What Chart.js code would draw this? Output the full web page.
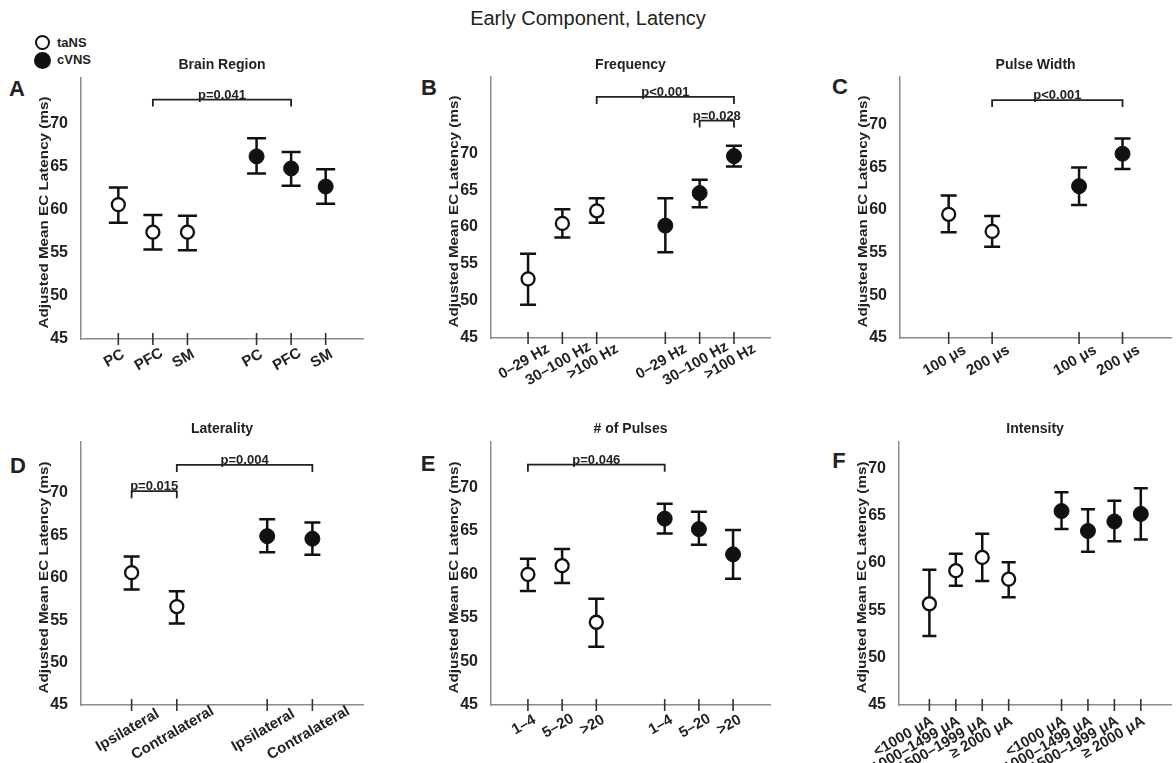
<!DOCTYPE html>
<html>
<head>
<meta charset="utf-8">
<script src="https://cdn.jsdelivr.net/npm/chart.js@4.4.1/dist/chart.umd.min.js"></script>
<style>
  html, body { margin:0; padding:0; background:#fff; }
  body { width:1176px; height:763px; overflow:hidden; position:relative; font-family:"Liberation Sans", Arial, sans-serif; color:#222; }
  canvas { position:absolute; }
  #mainTitle { position:absolute; left:588px; top:18px; transform:translate(-50%,-50%); font-size:20px; white-space:nowrap; }
  .letter { position:absolute; transform:translate(-50%,-50%); font-size:22px; font-weight:bold; line-height:1; }
  .legItem { position:absolute; left:33px; height:16px; font-size:13px; font-weight:bold; line-height:16px; white-space:nowrap; }
  .dot { position:absolute; border-radius:50%; box-sizing:border-box; }
</style>
</head>
<body>
<div id="mainTitle">Early Component, Latency</div>
<div class="legItem" style="top:35px;"><span class="dot" style="left:2px;top:0px;width:15px;height:15px;border:2.2px solid #111;background:#fff;"></span><span style="position:absolute;left:24px;">taNS</span></div>
<div class="legItem" style="top:52px;"><span class="dot" style="left:1px;top:0px;width:17px;height:17px;background:#111;"></span><span style="position:absolute;left:24px;">cVNS</span></div>
<div class="letter" style="left:17px;top:89px;">A</div>
<div class="letter" style="left:429px;top:88px;">B</div>
<div class="letter" style="left:840px;top:87px;">C</div>
<div class="letter" style="left:18px;top:466px;">D</div>
<div class="letter" style="left:428px;top:464px;">E</div>
<div class="letter" style="left:839px;top:461px;">F</div>
<canvas id="cA"></canvas>
<canvas id="cB"></canvas>
<canvas id="cC"></canvas>
<canvas id="cD"></canvas>
<canvas id="cE"></canvas>
<canvas id="cF"></canvas>
<script>
// ---------------- DATA ----------------
const yTickValues = [45, 50, 55, 60, 65, 70];
const yAxisTitle = 'Adjusted Mean EC Latency (ms)';

// A: Brain Region
const brainCategories = ['PC', 'PFC', 'SM'];
const brainTaNS     = [60.6, 57.4, 57.4];
const brainTaNSLow  = [58.5, 55.4, 55.3];
const brainTaNSHigh = [62.6, 59.4, 59.3];
const brainCVNS     = [66.2, 64.8, 62.7];
const brainCVNSLow  = [64.2, 62.8, 60.7];
const brainCVNSHigh = [68.3, 66.7, 64.7];
const brainPText  = ['p=0.041'];
const brainPFrom  = [1];
const brainPTo    = [5];
const brainPLevel = [72.8];

// B: Frequency
const freqCategories = ['0\u201329 Hz', '30\u2013100 Hz', '>100 Hz'];
const freqTaNS     = [53.0, 60.5, 62.2];
const freqTaNSLow  = [49.5, 58.6, 60.6];
const freqTaNSHigh = [56.4, 62.4, 63.9];
const freqCVNS     = [60.2, 64.6, 69.6];
const freqCVNSLow  = [56.6, 62.7, 68.2];
const freqCVNSHigh = [63.9, 66.4, 71.0];
const freqPText  = ['p<0.001', 'p=0.028'];
const freqPFrom  = [2, 5];
const freqPTo    = [6, 6];
const freqPLevel = [77.6, 74.4];

// C: Pulse Width
const pwCategories = ['100 \u03bcs', '200 \u03bcs'];
const pwTaNS     = [59.5, 57.5];
const pwTaNSLow  = [57.4, 55.7];
const pwTaNSHigh = [61.7, 59.3];
const pwCVNS     = [62.8, 66.6];
const pwCVNSLow  = [60.6, 64.8];
const pwCVNSHigh = [65.0, 68.4];
const pwPText  = ['p<0.001'];
const pwPFrom  = [1];
const pwPTo    = [4];
const pwPLevel = [72.9];

// D: Laterality
const latCategories = ['Ipsilateral', 'Contralateral'];
const latTaNS     = [60.6, 56.6];
const latTaNSLow  = [58.6, 54.6];
const latTaNSHigh = [62.5, 58.4];
const latCVNS     = [64.9, 64.6];
const latCVNSLow  = [63.0, 62.7];
const latCVNSHigh = [66.9, 66.5];
const latPText  = ['p=0.004', 'p=0.015'];
const latPFrom  = [1, 0];
const latPTo    = [4, 1];
const latPLevel = [73.3, 70.2];

// E: # of Pulses
const npCategories = ['1\u20134', '5\u201320', '>20'];
const npTaNS     = [60.0, 61.0, 54.5];
const npTaNSLow  = [58.1, 59.0, 51.7];
const npTaNSHigh = [61.8, 62.9, 57.2];
const npCVNS     = [66.4, 65.2, 62.3];
const npCVNSLow  = [64.7, 63.4, 59.5];
const npCVNSHigh = [68.1, 67.2, 65.1];
const npPText  = ['p=0.046'];
const npPFrom  = [0];
const npPTo    = [4];
const npPLevel = [72.6];

// F: Intensity
const intCategories = ['<1000 \u03bcA', '1000\u20131499 \u03bcA', '1500\u20131999 \u03bcA', '\u2265 2000 \u03bcA'];
const intTaNS     = [55.7, 59.2, 60.6, 58.3];
const intTaNSLow  = [52.3, 57.6, 58.1, 56.4];
const intTaNSHigh = [59.3, 61.0, 63.1, 60.1];
const intCVNS     = [65.5, 63.4, 64.4, 65.2];
const intCVNSLow  = [63.6, 61.2, 62.3, 62.5];
const intCVNSHigh = [67.5, 65.7, 66.6, 67.9];
const intPText  = [];
const intPFrom  = [];
const intPTo    = [];
const intPLevel = [];

// ---------------- RENDERING ----------------
const FONT = '"Liberation Sans", Arial, sans-serif';
Chart.defaults.font.family = FONT;
Chart.defaults.color = '#222';

function makePanel(cfg) {
  const cv = document.getElementById(cfg.id);
  const [cl, ct, cw, ch] = cfg.canvas;
  const [al, at, ar, ab] = cfg.area;
  cv.width = cw; cv.height = ch;
  cv.style.left = cl + 'px'; cv.style.top = ct + 'px';
  cv.style.width = cw + 'px'; cv.style.height = ch + 'px';
  const n = cfg.cats.length;
  const slots = [];
  const slotLabels = [];
  cfg.cats.forEach((c, i) => { slots.push(i); slotLabels.push(c); });
  cfg.cats.forEach((c, i) => { slots.push(n + 1 + i); slotLabels.push(c); });

  const decor = {
    id: 'decor' + cfg.id,
    beforeDatasetsDraw(chart) {
      const ctx = chart.ctx, ys = chart.scales.y;
      chart.data.datasets.forEach((ds, i) => {
        const meta = chart.getDatasetMeta(i);
        meta.data.forEach((pt, j) => {
          const x = pt.x;
          const yl = ys.getPixelForValue(ds.errLow[j]);
          const yh = ys.getPixelForValue(ds.errHigh[j]);
          const c = cfg.cap;
          ctx.save();
          ctx.strokeStyle = '#111'; ctx.lineWidth = 2.5; ctx.lineCap = 'butt';
          ctx.beginPath();
          ctx.moveTo(x, yl); ctx.lineTo(x, yh);
          ctx.moveTo(x - c, yl); ctx.lineTo(x + c, yl);
          ctx.moveTo(x - c, yh); ctx.lineTo(x + c, yh);
          ctx.stroke();
          ctx.restore();
        });
      });
    },
    afterDraw(chart) {
      const ctx = chart.ctx, xs = chart.scales.x, ys = chart.scales.y, area = chart.chartArea;
      // tick marks crossing the x axis
      ctx.save();
      ctx.strokeStyle = '#333'; ctx.lineWidth = 1.6;
      slots.forEach(s => {
        const x = xs.getPixelForValue(s);
        ctx.beginPath(); ctx.moveTo(x, area.bottom - 6); ctx.lineTo(x, area.bottom + 6); ctx.stroke();
      });
      ctx.restore();
      // rotated x labels
      ctx.save();
      ctx.fillStyle = '#222';
      ctx.font = 'bold 15px ' + FONT;
      ctx.textBaseline = 'middle';
      slots.forEach((s, k) => {
        const x = xs.getPixelForValue(s);
        const t = slotLabels[k];
        const L = ctx.measureText(t).width;
        ctx.save();
        if (cfg.rightAnchor) {
          ctx.translate(x + 3, area.bottom + 15);
          ctx.rotate(-Math.PI / 6);
          ctx.textAlign = 'right';
        } else {
          ctx.translate(x - 4, area.bottom + 17 + L * 0.12);
          ctx.rotate(-Math.PI / 6);
          ctx.textAlign = 'center';
        }
        ctx.fillText(t, 0, 0);
        ctx.restore();
      });
      ctx.restore();
      // significance brackets
      ctx.save();
      ctx.strokeStyle = '#222'; ctx.fillStyle = '#222'; ctx.lineWidth = 1.8;
      ctx.font = 'bold 13px ' + FONT;
      ctx.textAlign = 'center'; ctx.textBaseline = 'alphabetic';
      cfg.pText.forEach((t, k) => {
        const x1 = xs.getPixelForValue(cfg.pFrom[k]);
        const x2 = xs.getPixelForValue(cfg.pTo[k]);
        const y = ys.getPixelForValue(cfg.pLevel[k]);
        ctx.beginPath();
        ctx.moveTo(x1, y + 7); ctx.lineTo(x1, y); ctx.lineTo(x2, y); ctx.lineTo(x2, y + 7);
        ctx.stroke();
        ctx.fillText(t, (x1 + x2) / 2, y - 1);
      });
      ctx.restore();
      // y-axis title
      ctx.save();
      ctx.fillStyle = '#222';
      ctx.font = 'bold 13px ' + FONT;
      const w = ctx.measureText(yAxisTitle).width;
      ctx.translate(area.left - 37, (area.top + area.bottom) / 2 + 4);
      ctx.rotate(-Math.PI / 2);
      ctx.scale(232 / w, 1);
      ctx.textAlign = 'center'; ctx.textBaseline = 'middle';
      ctx.fillText(yAxisTitle, 0, 0);
      ctx.restore();
    }
  };

  return new Chart(cv, {
    type: 'scatter',
    data: {
      datasets: [
        { label: 'taNS', data: cfg.ta.map((v, i) => ({ x: i, y: v })),
          errLow: cfg.taLow, errHigh: cfg.taHigh,
          pointRadius: 6.5, pointBorderWidth: 2.3, pointBackgroundColor: '#fff', pointBorderColor: '#111' },
        { label: 'cVNS', data: cfg.cv.map((v, i) => ({ x: n + 1 + i, y: v })),
          errLow: cfg.cvLow, errHigh: cfg.cvHigh,
          pointRadius: 7.5, pointBorderWidth: 1, pointBackgroundColor: '#111', pointBorderColor: '#111' }
      ]
    },
    options: {
      responsive: false, animation: false, devicePixelRatio: 1,
      events: [],
      layout: { padding: { left: 0, top: 0, right: cl + cw - ar, bottom: 0 } },
      plugins: {
        legend: { display: false },
        tooltip: { enabled: false },
        title: { display: true, text: cfg.title, fullSize: false, color: '#222',
                 font: { size: 14, weight: 'bold' }, padding: { top: 0, bottom: at - ct - 16.8 } }
      },
      scales: {
        x: {
          type: 'linear', min: cfg.xRange[0], max: cfg.xRange[1],
          grid: { display: false },
          border: { display: true, color: '#8c8c8c', width: 1.5 },
          ticks: { display: false },
          afterBuildTicks: s => { s.ticks = slots.map(v => ({ value: v })); },
          afterFit: s => { s.height = ct + ch - ab; }
        },
        y: {
          type: 'linear', min: 45, max: cfg.yMax,
          grid: { display: false },
          border: { display: true, color: '#8c8c8c', width: 1.5 },
          ticks: { color: '#222', font: { size: 16, weight: 'bold' }, padding: 5 },
          afterBuildTicks: s => { s.ticks = yTickValues.map(v => ({ value: v })); },
          afterFit: s => { s.width = al - cl; }
        }
      }
    },
    plugins: [decor]
  });
}

makePanel({ id: 'cA', canvas: [0, 57, 390, 333], area: [81, 78, 363, 339], title: 'Brain Region',
  cats: brainCategories, ta: brainTaNS, taLow: brainTaNSLow, taHigh: brainTaNSHigh,
  cv: brainCVNS, cvLow: brainCVNSLow, cvHigh: brainCVNSHigh,
  pText: brainPText, pFrom: brainPFrom, pTo: brainPTo, pLevel: brainPLevel,
  yMax: 75.3, xRange: [-1.08, 7.08], cap: 9.5, rightAnchor: false });

makePanel({ id: 'cB', canvas: [390, 57, 390, 333], area: [491, 77, 770, 338], title: 'Frequency',
  cats: freqCategories, ta: freqTaNS, taLow: freqTaNSLow, taHigh: freqTaNSHigh,
  cv: freqCVNS, cvLow: freqCVNSLow, cvHigh: freqCVNSHigh,
  pText: freqPText, pFrom: freqPFrom, pTo: freqPTo, pLevel: freqPLevel,
  yMax: 80.3, xRange: [-1.08, 7.05], cap: 8, rightAnchor: false });

makePanel({ id: 'cC', canvas: [780, 57, 400, 333], area: [900, 77, 1180, 338], title: 'Pulse Width',
  cats: pwCategories, ta: pwTaNS, taLow: pwTaNSLow, taHigh: pwTaNSHigh,
  cv: pwCVNS, cvLow: pwCVNSLow, cvHigh: pwCVNSHigh,
  pText: pwPText, pFrom: pwPFrom, pTo: pwPTo, pLevel: pwPLevel,
  yMax: 75.6, xRange: [-1.12, 5.12], cap: 8, rightAnchor: false });

makePanel({ id: 'cD', canvas: [0, 421, 390, 342], area: [81, 442, 363, 705], title: 'Laterality',
  cats: latCategories, ta: latTaNS, taLow: latTaNSLow, taHigh: latTaNSHigh,
  cv: latCVNS, cvLow: latCVNSLow, cvHigh: latCVNSHigh,
  pText: latPText, pFrom: latPFrom, pTo: latPTo, pLevel: latPLevel,
  yMax: 76.0, xRange: [-1.12, 5.12], cap: 8, rightAnchor: false });

makePanel({ id: 'cE', canvas: [390, 421, 390, 342], area: [491, 442, 770, 705], title: '# of Pulses',
  cats: npCategories, ta: npTaNS, taLow: npTaNSLow, taHigh: npTaNSHigh,
  cv: npCVNS, cvLow: npCVNSLow, cvHigh: npCVNSHigh,
  pText: npPText, pFrom: npPFrom, pTo: npPTo, pLevel: npPLevel,
  yMax: 75.2, xRange: [-1.08, 7.08], cap: 8, rightAnchor: false });

makePanel({ id: 'cF', canvas: [780, 421, 400, 342], area: [899, 442, 1180, 705], title: 'Intensity',
  cats: intCategories, ta: intTaNS, taLow: intTaNSLow, taHigh: intTaNSHigh,
  cv: intCVNS, cvLow: intCVNSLow, cvHigh: intCVNSHigh,
  pText: intPText, pFrom: intPFrom, pTo: intPTo, pLevel: intPLevel,
  yMax: 72.8, xRange: [-1.15, 9.15], cap: 7, rightAnchor: true });
</script>
</body>
</html>
